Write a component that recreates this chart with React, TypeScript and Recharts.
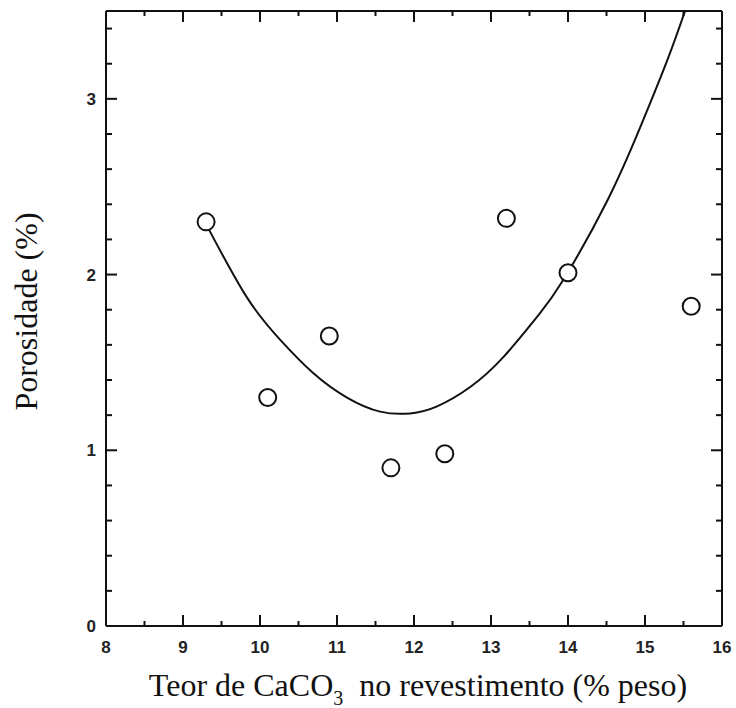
import React from "react";
import { ScatterChart, Scatter, XAxis, YAxis, Label } from "recharts";

// measured points
const teor = [9.3, 10.1, 10.9, 11.7, 12.4, 13.2, 14.0, 15.6];
const porosidade = [2.3, 1.3, 1.65, 0.9, 0.98, 2.32, 2.01, 1.82];

// fitted curve
const curveX = [9.32, 9.83, 10.26, 10.69, 11.13, 11.56, 11.95, 12.3, 12.73, 13.16, 13.6, 13.94, 14.51, 14.94, 15.29, 15.52];
const curveY = [2.27, 1.87, 1.63, 1.44, 1.3, 1.22, 1.21, 1.25, 1.36, 1.53, 1.76, 1.97, 2.42, 2.84, 3.22, 3.5];

const xMajor = [8, 9, 10, 11, 12, 13, 14, 15, 16];
const xTicks = [8, 8.5, 9, 9.5, 10, 10.5, 11, 11.5, 12, 12.5, 13, 13.5, 14, 14.5, 15, 15.5, 16];
const yMajor = [0, 1, 2, 3];
const yTicks = [0, 0.2, 0.4, 0.6, 0.8, 1, 1.2, 1.4, 1.6, 1.8, 2, 2.2, 2.4, 2.6, 2.8, 3, 3.2, 3.4];

const points = teor.map((x, i) => ({ x, y: porosidade[i] }));
const curve = curveX.map((x, i) => ({ x, y: curveY[i] }));

const INK = "#111";
const tickFont = {
  fontFamily: "'Liberation Sans', Arial, sans-serif",
  fontSize: 17,
  fontWeight: 700,
  fill: "#222",
};
const titleFont = "'Liberation Serif', 'Times New Roman', serif";

const isMajor = (list: number[], v: number) => list.some((m) => Math.abs(m - v) < 1e-6);

const XTick = (props: any) => {
  const { x, y, payload, side } = props;
  const major = isMajor(xMajor, payload.value);
  const len = major ? 11 : 5;
  const dir = side === "bottom" ? -1 : 1;
  return (
    <g>
      <line x1={x} y1={y} x2={x} y2={y + dir * len} stroke={INK} strokeWidth={2} />
      {side === "bottom" && major && (
        <text x={x} y={y + 27} textAnchor="middle" {...tickFont}>
          {payload.value}
        </text>
      )}
    </g>
  );
};

const YTick = (props: any) => {
  const { x, y, payload, side } = props;
  const major = isMajor(yMajor, payload.value);
  const len = major ? 11 : 6;
  const dir = side === "left" ? 1 : -1;
  return (
    <g>
      <line x1={x} y1={y} x2={x + dir * len} y2={y} stroke={INK} strokeWidth={2} />
      {side === "left" && major && (
        <text x={x - 10} y={y + 6} textAnchor="end" {...tickFont}>
          {payload.value}
        </text>
      )}
    </g>
  );
};

const XTitle = (props: any) => {
  const vb = props.viewBox;
  return (
    <text x={vb.x + vb.width / 2 + 4} y={vb.y + 70} textAnchor="middle" fontFamily={titleFont} fontSize={32} fill={INK}>
      Teor de CaCO
      <tspan dy={9} fontSize={20}>3</tspan>
      <tspan dy={-9}>{"\u00a0 no revestimento (% peso)"}</tspan>
    </text>
  );
};

const YTitle = (props: any) => {
  const vb = props.viewBox;
  const cx = vb.x + vb.width - 69;
  const cy = vb.y + vb.height / 2 - 7;
  return (
    <text x={cx} y={cy} transform={`rotate(-90, ${cx}, ${cy})`} textAnchor="middle" fontFamily={titleFont} fontSize={32} fill={INK}>
      Porosidade (%)
    </text>
  );
};

const Ring = (props: any) => (
  <circle cx={props.cx} cy={props.cy} r={8.5} fill="#fff" stroke={INK} strokeWidth={2} />
);

const axisLine = { stroke: INK, strokeWidth: 2 };

export default function App() {
  return (
    <div style={{ position: "absolute", left: 0, top: 0, width: 736, height: 708, background: "#fff" }}>
      <ScatterChart width={736} height={708} margin={{ top: 0, right: 0, bottom: 0, left: 0 }}>
        <XAxis
          xAxisId="b"
          type="number"
          dataKey="x"
          domain={[8, 16]}
          ticks={xTicks}
          interval={0}
          height={82}
          tickSize={0}
          tickMargin={0}
          tickLine={false}
          axisLine={axisLine}
          tick={(p: any) => <XTick {...p} side="bottom" />}
          allowDataOverflow
        >
          <Label content={XTitle} />
        </XAxis>
        <XAxis
          xAxisId="t"
          orientation="top"
          type="number"
          dataKey="x"
          domain={[8, 16]}
          ticks={xTicks}
          interval={0}
          height={11}
          tickSize={0}
          tickMargin={0}
          tickLine={false}
          axisLine={axisLine}
          tick={(p: any) => <XTick {...p} side="top" />}
          allowDataOverflow
        />
        <YAxis
          yAxisId="l"
          type="number"
          dataKey="y"
          domain={[0, 3.5]}
          ticks={yTicks}
          interval={0}
          width={106}
          tickSize={0}
          tickMargin={0}
          tickLine={false}
          axisLine={axisLine}
          tick={(p: any) => <YTick {...p} side="left" />}
          allowDataOverflow
        >
          <Label content={YTitle} />
        </YAxis>
        <YAxis
          yAxisId="r"
          orientation="right"
          type="number"
          dataKey="y"
          domain={[0, 3.5]}
          ticks={yTicks}
          interval={0}
          width={14}
          tickSize={0}
          tickMargin={0}
          tickLine={false}
          axisLine={axisLine}
          tick={(p: any) => <YTick {...p} side="right" />}
          allowDataOverflow
        />
        <Scatter
          xAxisId="b"
          yAxisId="l"
          data={curve}
          line={{ stroke: INK, strokeWidth: 2 }}
          lineJointType="natural"
          shape={() => <g />}
          isAnimationActive={false}
        />
        <Scatter xAxisId="b" yAxisId="l" data={points} shape={Ring} isAnimationActive={false} />
        <Scatter xAxisId="t" yAxisId="r" data={[]} isAnimationActive={false} />
      </ScatterChart>
    </div>
  );
}
